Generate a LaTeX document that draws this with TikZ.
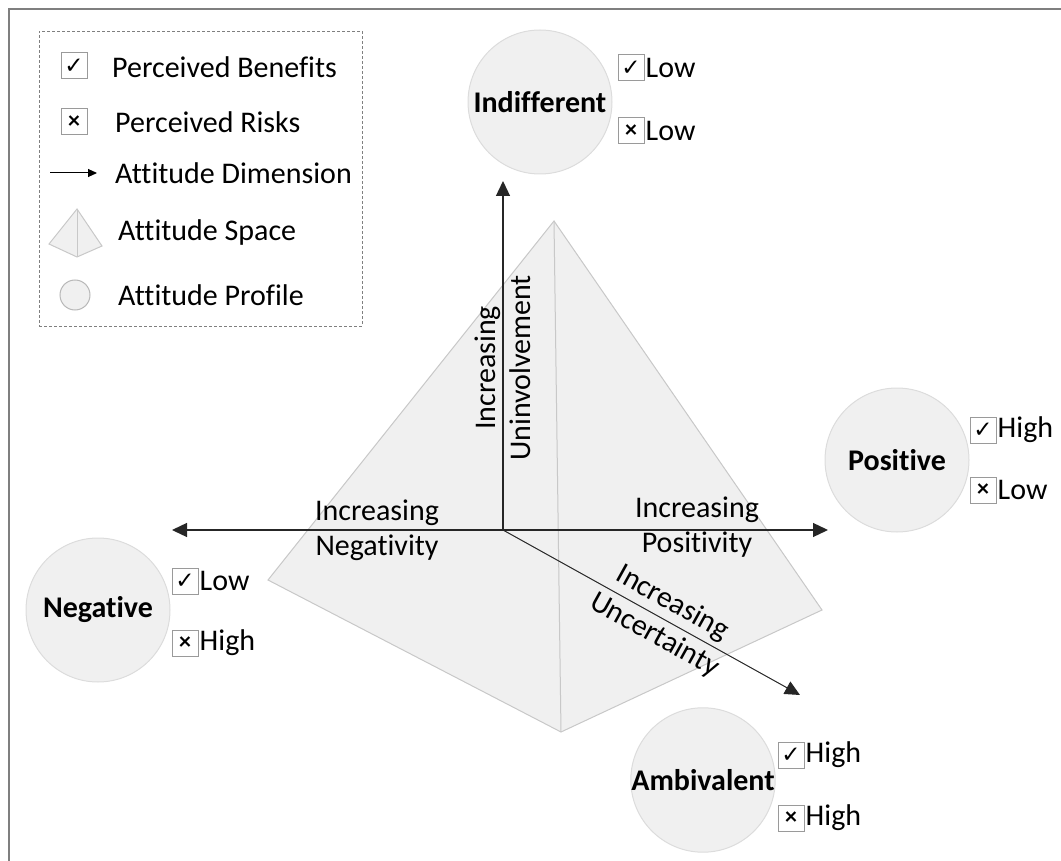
\documentclass[tikz,border=0pt]{standalone}
\usepackage{fontspec}
\setmainfont{Carlito}[Ligatures=NoCommon]
\newfontfamily\symfont{DejaVu Sans}
\usetikzlibrary{arrows.meta,positioning}
\definecolor{spacefill}{HTML}{F0F0F0}
\definecolor{spaceedge}{HTML}{C8C8C8}
\definecolor{profileedge}{HTML}{DCDCDC}
\definecolor{boxedge}{HTML}{9A9A9A}
\definecolor{framegray}{HTML}{7F7F7F}
\newcommand{\tickmark}{{\symfont\fontsize{23}{23}\selectfont ✓}}
\newcommand{\crossmark}{{\fontsize{24}{24}\selectfont\bfseries ×}}
\tikzset{
    % Attitude profile circle
    profile/.style={
        circle,
        minimum size=144pt,
        inner sep=0pt,
        fill=spacefill,
        draw=profileedge,
        line width=1pt,
        font=\fontsize{30}{36}\selectfont\bfseries
    },
    % Benefit / risk box
    tickbox/.style={
        rectangle,
        minimum size=26pt,
        inner sep=0pt,
        draw=boxedge,
        line width=1pt,
        fill=white
    },
    % High / low text
    level/.style={
        inner sep=1pt
    },
    % Pyramid faces
    space/.style={
        fill=spacefill,
        draw=spaceedge,
        line width=1pt
    },
    % Dimension arrows
    axis/.style={
        -{Triangle[length=15pt, width=14pt]},
        line width=1.3pt,
        color=black!85
    },
    axis label/.style={
        align=center,
        inner sep=0pt
    },
    legend text/.style={
        anchor=west,
        inner sep=0pt
    }
}
\begin{document}
\begin{tikzpicture}[x=1pt, y=-1pt, font=\fontsize{30}{35}\selectfont]
    \useasboundingbox (0,0) rectangle (1061,861);

    % Frame
    \draw[framegray, line width=1.8pt] (1075,9) -- (9,9) -- (9,875);

    % Legend
    \node[draw=framegray, dash pattern=on 3pt off 2pt, line width=0.8pt,
          minimum width=323pt, minimum height=295pt] (legend) at (200.5,178.5) {};
    \node[tickbox] (lgBenefit) at (74,66) {\tickmark};
    \node[legend text] at (112,67) {Perceived Benefits};
    \node[tickbox] (lgRisk) at (74,122) {\crossmark};
    \node[legend text] at (115,122) {Perceived Risks};
    \coordinate (lgArrowA) at (50,173);
    \coordinate (lgArrowB) at (97,173);
    \draw[-{Triangle[length=9pt, width=8pt]}, line width=1pt] (lgArrowA) -- (lgArrowB);
    \node[legend text] at (115,173) {Attitude Dimension};
    \coordinate (lgApex) at (77,209);
    \coordinate (lgLeft) at (49,244);
    \coordinate (lgBottom) at (77,257);
    \coordinate (lgRight) at (102,246);
    \draw[space] (lgApex) -- (lgLeft) -- (lgBottom) -- (lgRight) -- cycle;
    \draw[spaceedge, line width=1pt] (lgApex) -- (lgBottom);
    \node[legend text] at (118,233) {Attitude Space};
    \node[profile, minimum size=30pt, draw=boxedge!70] (lgProfile) at (75,295) {};
    \node[legend text] at (118,295) {Attitude Profile};

    % Attitude space
    \coordinate (apex) at (554,221);
    \coordinate (left) at (268,580);
    \coordinate (bottom) at (561,732);
    \coordinate (right) at (822,610);
    \draw[space] (apex) -- (left) -- (bottom) -- (right) -- cycle;
    \draw[spaceedge, line width=1pt] (apex) -- (bottom);

    % Dimensions
    \coordinate (origin) at (503,530);
    \coordinate (upEnd) at (503,181);
    \coordinate (leftEnd) at (172,530);
    \coordinate (rightEnd) at (828,530);
    \coordinate (diagEnd) at (800,695);
    \draw[axis] (origin) -- (upEnd);
    \draw[axis] (origin) -- (leftEnd);
    \draw[axis] (origin) -- (rightEnd);
    \draw[axis, line width=1pt] (origin) -- (diagEnd);

    \node[axis label, rotate=90] (uninvolve) at (503,368) {Increasing\\Uninvolvement};
    \node[axis label] (negativity) at (377,530) {Increasing\\Negativity};
    \node[axis label] (positivity) at (697,527) {Increasing\\Positivity};
    \path (origin) -- node[axis label, sloped, pos=0.54] (uncertainty) {Increasing\\[2pt]Uncertainty} (diagEnd);

    % Profiles
    \node[profile] (indifferent) at (540,102) {Indifferent};
    \node[profile] (positive) at (897,460) {Positive};
    \node[profile] (negative) at (98,610) {Negative};
    \node[profile] (ambivalent) at (703,780) {Ambivalent};

    % Benefits and risks
    \node[tickbox] (indiffBen) at (631,68) {\tickmark};
    \node[level, right=0pt of indiffBen] {Low};
    \node[tickbox] (indiffRisk) at (631,131) {\crossmark};
    \node[level, right=0pt of indiffRisk] {Low};

    \node[tickbox] (posBen) at (983,430) {\tickmark};
    \node[level, right=0pt of posBen] {High};
    \node[tickbox] (posRisk) at (983,490) {\crossmark};
    \node[level, right=0pt of posRisk] {Low};

    \node[tickbox] (negBen) at (185,581) {\tickmark};
    \node[level, right=0pt of negBen] {Low};
    \node[tickbox] (negRisk) at (185,643) {\crossmark};
    \node[level, right=0pt of negRisk] {High};

    \node[tickbox] (ambBen) at (791,755) {\tickmark};
    \node[level, right=0pt of ambBen] {High};
    \node[tickbox] (ambRisk) at (791,818) {\crossmark};
    \node[level, right=0pt of ambRisk] {High};
\end{tikzpicture}
\end{document}
